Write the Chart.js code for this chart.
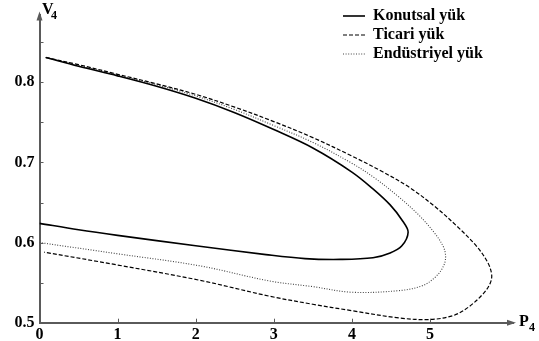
<!DOCTYPE html>
<html>
<head>
<meta charset="utf-8">
<script src="https://cdn.jsdelivr.net/npm/chart.js@4.4.1/dist/chart.umd.min.js"></script>
<style>
  html, body { margin: 0; padding: 0; background: #ffffff; }
  #wrap { width: 539px; height: 341px; }
</style>
</head>
<body>
<div id="wrap"><canvas id="c" width="539" height="341"></canvas></div>
<script>
// ---- data (P4 in x, V4 in y) ----
const seriesNames = ["Konutsal yük", "Ticari yük", "Endüstriyel yük"];

const P_konutsal = [0.08, 0.5, 1.0, 1.5, 2.0, 2.5, 3.0, 3.5, 4.0, 4.27, 4.49, 4.65, 4.72, 4.64, 4.49, 4.27, 3.85, 3.4, 2.9, 2.0, 1.0, 0.5, 0.0];
const V_konutsal = [0.831, 0.820, 0.808, 0.795, 0.780, 0.762, 0.741, 0.718, 0.688, 0.667, 0.647, 0.627, 0.613, 0.596, 0.587, 0.581, 0.579, 0.580, 0.585, 0.596, 0.609, 0.616, 0.624];

const P_ticari = [0.08, 0.5, 1.0, 1.5, 2.0, 2.5, 3.0, 3.5, 4.0, 4.4, 4.75, 5.05, 5.35, 5.6, 5.74, 5.79, 5.77, 5.68, 5.5, 5.3, 5.0, 4.6, 4.0, 3.5, 2.95, 2.05, 1.0, 0.06];
const V_ticari = [0.831, 0.822, 0.810, 0.798, 0.785, 0.769, 0.751, 0.731, 0.708, 0.688, 0.668, 0.646, 0.620, 0.595, 0.575, 0.560, 0.549, 0.536, 0.520, 0.509, 0.504, 0.506, 0.515, 0.523, 0.533, 0.553, 0.572, 0.588];

const P_endustriyel = [0.08, 0.5, 1.0, 1.5, 2.0, 2.5, 3.0, 3.5, 4.0, 4.3, 4.6, 4.85, 5.05, 5.17, 5.20, 5.17, 5.07, 4.9, 4.6, 4.0, 3.5, 2.95, 2.05, 1.0, 0.0];
const V_endustriyel = [0.831, 0.821, 0.809, 0.797, 0.783, 0.766, 0.746, 0.725, 0.699, 0.680, 0.657, 0.635, 0.613, 0.595, 0.582, 0.570, 0.557, 0.546, 0.540, 0.538, 0.545, 0.552, 0.571, 0.586, 0.600];

const xTickValues = [0, 1, 2, 3, 4, 5];
const yTickValues = [0.5, 0.55, 0.6, 0.65, 0.7, 0.75, 0.8, 0.85];
const yLabelledTicks = [0.5, 0.6, 0.7, 0.8];

const xAxisName = "P";
const yAxisName = "V";
const axisSubscript = "4";

const toPoints = (P, V) => P.map((p, i) => ({ x: p, y: V[i] }));

const AXIS_COLOR = '#5a5a5a';
const FONT = '"Liberation Serif", "Times New Roman", serif';

const axisDecor = {
  id: 'axisDecor',
  afterLayout(chart) {
    const lg = chart.legend;
    if (lg) { lg.left = 340; lg.top = 5; }
  },
  afterDraw(chart) {
    const ctx = chart.ctx;
    const a = chart.chartArea;
    const xs = chart.scales.x, ys = chart.scales.y;
    const ox = xs.getPixelForValue(0), oy = ys.getPixelForValue(0.5);
    ctx.save();
    ctx.strokeStyle = AXIS_COLOR;
    ctx.fillStyle = AXIS_COLOR;
    ctx.lineWidth = 1;
    xTickValues.forEach(v => {
      if (v === 0) return;
      const px = Math.round(xs.getPixelForValue(v)) + 0.5;
      ctx.beginPath(); ctx.moveTo(px, oy); ctx.lineTo(px, oy - 4); ctx.stroke();
    });
    yTickValues.forEach(v => {
      if (v === 0.5) return;
      const py = Math.round(ys.getPixelForValue(v)) + 0.5;
      ctx.beginPath(); ctx.moveTo(ox, py); ctx.lineTo(ox + 4, py); ctx.stroke();
    });
    ctx.beginPath();
    ctx.moveTo(ox, a.top - 3); ctx.lineTo(ox - 3, a.top + 6); ctx.lineTo(ox + 3, a.top + 6); ctx.closePath(); ctx.fill();
    ctx.beginPath();
    ctx.moveTo(a.right + 3, oy); ctx.lineTo(a.right - 6, oy - 3); ctx.lineTo(a.right - 6, oy + 3); ctx.closePath(); ctx.fill();
    ctx.fillStyle = '#000';
    ctx.textBaseline = 'alphabetic';
    ctx.textAlign = 'left';
    ctx.font = 'bold 16px ' + FONT;
    ctx.fillText(yAxisName, 42, 14);
    ctx.fillText(xAxisName, 519, 326);
    ctx.font = 'bold 12px ' + FONT;
    ctx.fillText(axisSubscript, 51, 19);
    ctx.fillText(axisSubscript, 529, 331);
    ctx.restore();
  }
};

new Chart(document.getElementById('c'), {
  type: 'scatter',
  data: {
    datasets: [
      { label: seriesNames[0], data: toPoints(P_konutsal, V_konutsal), showLine: true, borderColor: '#000', backgroundColor: '#000', borderWidth: 1.6, pointRadius: 0, pointStyle: 'line', tension: 0.35 },
      { label: seriesNames[1], data: toPoints(P_ticari, V_ticari), showLine: true, borderColor: '#000', backgroundColor: '#000', borderWidth: 1.2, borderDash: [4, 2], pointRadius: 0, pointStyle: 'line', tension: 0.35 },
      { label: seriesNames[2], data: toPoints(P_endustriyel, V_endustriyel), showLine: true, borderColor: '#444', backgroundColor: '#444', borderWidth: 1.1, borderDash: [1, 1.6], pointRadius: 0, pointStyle: 'line', tension: 0.35 }
    ]
  },
  options: {
    responsive: false,
    animation: false,
    devicePixelRatio: 1,
    layout: { padding: { left: 0, top: 12, right: 26, bottom: 0 } },
    plugins: {
      tooltip: { enabled: false },
      legend: {
        position: 'chartArea',
        align: 'start',
        labels: {
          usePointStyle: true,
          pointStyle: 'line',
          pointStyleWidth: 22,
          boxWidth: 22,
          boxHeight: 8,
          padding: 3,
          color: '#000',
          font: { family: FONT, size: 16, weight: 'bold' },
          generateLabels: chart => {
            const items = Chart.defaults.plugins.legend.labels.generateLabels(chart);
            return items.map(it => {
              const ds = chart.data.datasets[it.datasetIndex];
              it.lineDash = ds.borderDash || [];
              it.lineWidth = ds.borderWidth;
              it.strokeStyle = ds.borderColor;
              it.pointStyle = 'line';
              return it;
            });
          }
        }
      }
    },
    scales: {
      x: {
        type: 'linear',
        min: 0,
        max: 6.063,
        afterBuildTicks: s => { s.ticks = xTickValues.map(v => ({ value: v })); },
        afterFit: s => { s.height = 18.3; },
        grid: { display: false, drawTicks: false },
        border: { display: true, color: AXIS_COLOR, width: 2 },
        ticks: { color: '#000', padding: 3, autoSkip: false, maxRotation: 0, font: { family: FONT, size: 16, weight: 'bold' }, callback: v => String(v) }
      },
      y: {
        type: 'linear',
        min: 0.5,
        max: 0.8845,
        afterBuildTicks: s => { s.ticks = yTickValues.map(v => ({ value: v })); },
        afterFit: s => { s.width = 39.5; },
        grid: { display: false, drawTicks: false },
        border: { display: true, color: AXIS_COLOR, width: 2 },
        ticks: { color: '#000', padding: 5, autoSkip: false, font: { family: FONT, size: 16, weight: 'bold' },
          callback: v => yLabelledTicks.some(t => Math.abs(t - v) < 1e-9) ? v.toFixed(1) : '' }
      }
    }
  },
  plugins: [axisDecor]
});
</script>
</body>
</html>
